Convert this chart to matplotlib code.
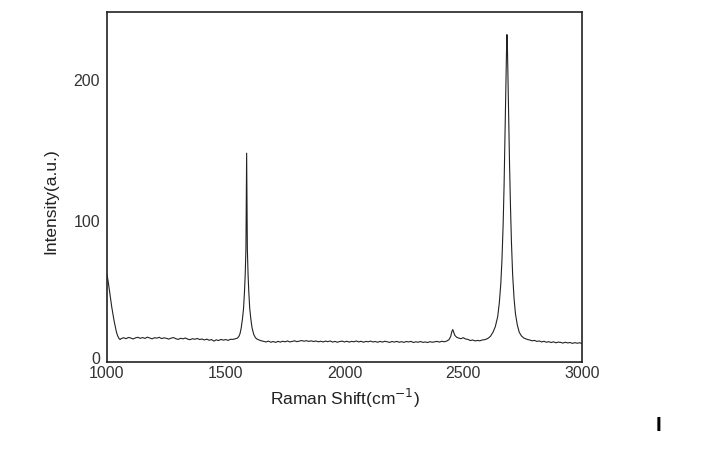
import numpy as np
import matplotlib
matplotlib.use("Agg")
import matplotlib.pyplot as plt
from matplotlib.transforms import ScaledTranslation

plt.rcParams["font.family"] = ["Liberation Sans", "DejaVu Sans"]

# ── 데이터 ─────────────────────────────────
# 1000 cm-1 쪽 꼬리
tail_x = [1000, 1005, 1010, 1015, 1020, 1025, 1030, 1035, 1040, 1045, 1050, 1055]
tail_y = [62, 57, 51, 45, 39, 34, 29, 25, 21, 18.5, 16.8, 15.9]

# 왼쪽 기준선 1060-1540 (10 간격)
base1_x = np.arange(1060, 1541, 10)
base1_y = [16.6, 17.2, 16.5, 17.4, 17.0, 16.3, 17.1, 17.5, 16.8, 17.3,
           16.7, 17.6, 17.0, 16.4, 17.2, 16.9, 17.5, 16.6, 17.1, 16.8,
           16.2, 16.9, 17.3, 16.5, 16.0, 16.8, 16.4, 17.0, 16.2, 15.8,
           16.5, 16.1, 16.7, 15.9, 16.3, 15.6, 16.2, 15.4, 15.9, 14.8,
           15.7, 15.2, 16.0, 15.5, 15.9, 15.3, 16.1, 16.0, 16.4]

# G 피크 (~1588)
g_x = [1548, 1555, 1560, 1565, 1570, 1575, 1579, 1582, 1585, 1587, 1588,
       1589, 1591, 1594, 1597, 1601, 1606, 1611, 1618, 1625, 1632]
g_y = [16.8, 18.0, 20, 24, 30, 38, 50, 62, 80, 120, 148,
       125, 80, 62, 50, 38, 30, 24, 19.5, 17.2, 16.2]

# 가운데 기준선 1640-2420
base2_x = np.arange(1640, 2421, 10)
base2_y = [15.6, 15.0, 14.6, 14.2, 14.8, 14.0, 14.5, 13.9, 14.6, 14.1,
           14.7, 14.3, 14.9, 14.2, 14.6, 15.0, 14.4, 14.8, 15.2, 14.7,
           15.1, 14.6, 15.0, 14.5, 14.9, 14.3, 14.7, 14.2, 14.8, 14.4,
           14.9, 14.1, 14.6, 14.0, 14.5, 14.8, 14.2, 14.7, 14.1, 14.6,
           14.3, 14.9, 14.2, 14.7, 14.0, 14.6, 14.3, 14.8, 14.2, 14.5,
           14.0, 14.6, 14.1, 14.7, 14.3, 13.9, 14.5, 14.1, 14.6, 14.0,
           14.4, 13.9, 14.5, 14.2, 14.6, 13.8, 14.3, 14.0, 14.5, 13.9,
           14.2, 13.8, 14.4, 14.0, 14.3, 14.6, 14.1, 14.7, 14.3]

# 작은 피크 (~2456) + 2D 피크 (~2684)
d_x = [2430, 2440, 2447, 2452, 2456, 2460, 2465, 2472, 2480, 2490,
       2500, 2510, 2520, 2530, 2540, 2550, 2560, 2570, 2580, 2590,
       2600, 2608, 2615, 2625, 2635, 2645, 2652, 2658, 2663, 2668,
       2672, 2676, 2679, 2682, 2684, 2686, 2689, 2692, 2695, 2699,
       2703, 2708, 2714, 2720, 2728, 2736, 2745, 2755, 2765, 2772]
d_y = [14.8, 15.8, 18.0, 21.5, 23.0, 21.0, 18.8, 17.6, 17.0, 16.5,
       17.2, 16.3, 16.0, 15.2, 15.6, 14.9, 15.3, 15.0, 15.6, 15.8,
       16.4, 17.2, 18.3, 21, 25, 32, 42, 55, 72, 97,
       125, 160, 190, 218, 232, 224, 198, 168, 140, 110,
       85, 62, 45, 34, 26, 21, 18.5, 17.0, 16.3, 15.9]

# 오른쪽 기준선 2780-3000
base3_x = np.arange(2780, 3001, 10)
base3_y = [15.6, 15.0, 15.3, 14.6, 14.9, 14.2, 14.7, 14.0, 14.4, 13.8,
           14.3, 13.6, 14.1, 13.9, 13.4, 14.0, 13.5, 13.8, 13.2, 13.7,
           13.3, 13.6, 13.2]

shift = np.concatenate([tail_x, base1_x, g_x, base2_x, d_x, base3_x])
intensity = np.concatenate([tail_y, base1_y, g_y, base2_y, d_y, base3_y])

# ── 그림 ─────────────────────────────────────────
fig = plt.figure(figsize=(7.2, 4.57), dpi=100)
ax = fig.add_axes([0.1486, 0.2079, 0.6597, 0.7658])

ax.plot(shift, intensity, color="#222222", linewidth=0.8)

ax.set_xlim(1000, 3000)
ax.set_ylim(0, 248)
ax.set_xticks([1000, 1500, 2000, 2500, 3000])
ax.set_yticks([0, 100, 200])
ax.tick_params(length=0, labelsize=11.5, labelcolor="#333333")
ax.tick_params(axis="x", pad=3)
ax.tick_params(axis="y", pad=5)

# 0 라벨은 살짝 위로 (원본처럼)
ylab0 = ax.get_yticklabels()[0]
ylab0.set_transform(ylab0.get_transform() + ScaledTranslation(0, 0.04, fig.dpi_scale_trans))

for sp in ax.spines.values():
    sp.set_color("#222222")
    sp.set_linewidth(1.2)

ax.set_xlabel("Raman Shift(cm$^{-1}$)", fontsize=12.5, color="#222222", labelpad=4)
ax.set_ylabel("Intensity(a.u.)", fontsize=12.5, color="#222222")
ax.yaxis.set_label_coords(-0.103, 0.46)

fig.text(0.914, 0.07, "I", fontsize=15, fontweight="bold", color="black",
         ha="center", va="center")

plt.savefig("out.png", dpi=100)
